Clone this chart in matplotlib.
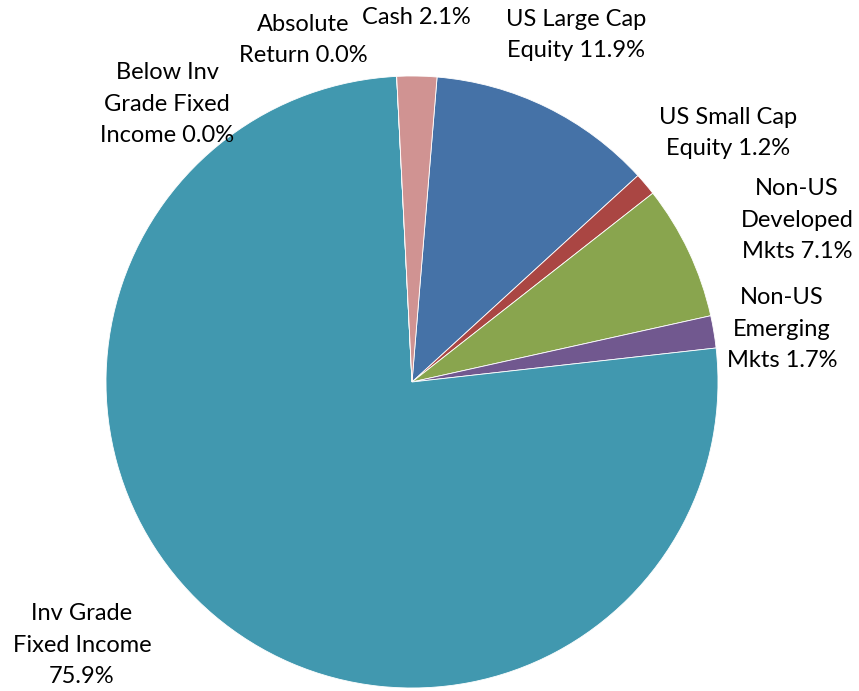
import matplotlib
matplotlib.use("Agg")
import matplotlib.pyplot as plt

# Data (order: clockwise starting at the top)
categories = ["US Large Cap Equity", "US Small Cap Equity", "Non-US Developed Mkts",
              "Non-US Emerging Mkts", "Inv Grade Fixed Income",
              "Below Inv Grade Fixed Income", "Absolute Return", "Cash"]
values = [11.9, 1.2, 7.1, 1.7, 75.9, 0.0, 0.0, 2.1]
labels = ["US Large Cap\nEquity 11.9%", "US Small Cap\nEquity 1.2%",
          "Non-US\nDeveloped\nMkts 7.1%", "Non-US\nEmerging\nMkts 1.7%",
          "Inv Grade\nFixed Income\n75.9%", "Below Inv\nGrade Fixed\nIncome 0.0%",
          "Absolute\nReturn 0.0%", "Cash 2.1%"]

# Styling
colors = ["#4572A7", "#AA4643", "#89A54E", "#71588F", "#4198AF",
          "#DB843D", "#93A9CF", "#D09392"]
W, H = 859, 691
label_pos = [(576, 35), (728, 133), (797, 220), (782, 329),
             (82, 645), (167, 104), (303, 40), (416, 17)]

fig = plt.figure(figsize=(W / 100, H / 100), dpi=100)
ax = fig.add_axes([0, 0, 1, 1])

ax.pie(values, colors=colors, startangle=85.3, counterclock=False,
       center=(412, H - 382), radius=306,
       wedgeprops=dict(edgecolor="white", linewidth=0.6))
ax.set_xlim(0, W)
ax.set_ylim(0, H)
ax.set_aspect("equal")
ax.axis("off")

for lab, (x, y) in zip(labels, label_pos):
    ax.text(x, H - y, lab, ha="center", va="center", fontsize=17,
            family=["Lato", "DejaVu Sans"], color="black", linespacing=1.6)

fig.savefig("out.png", dpi=100)
